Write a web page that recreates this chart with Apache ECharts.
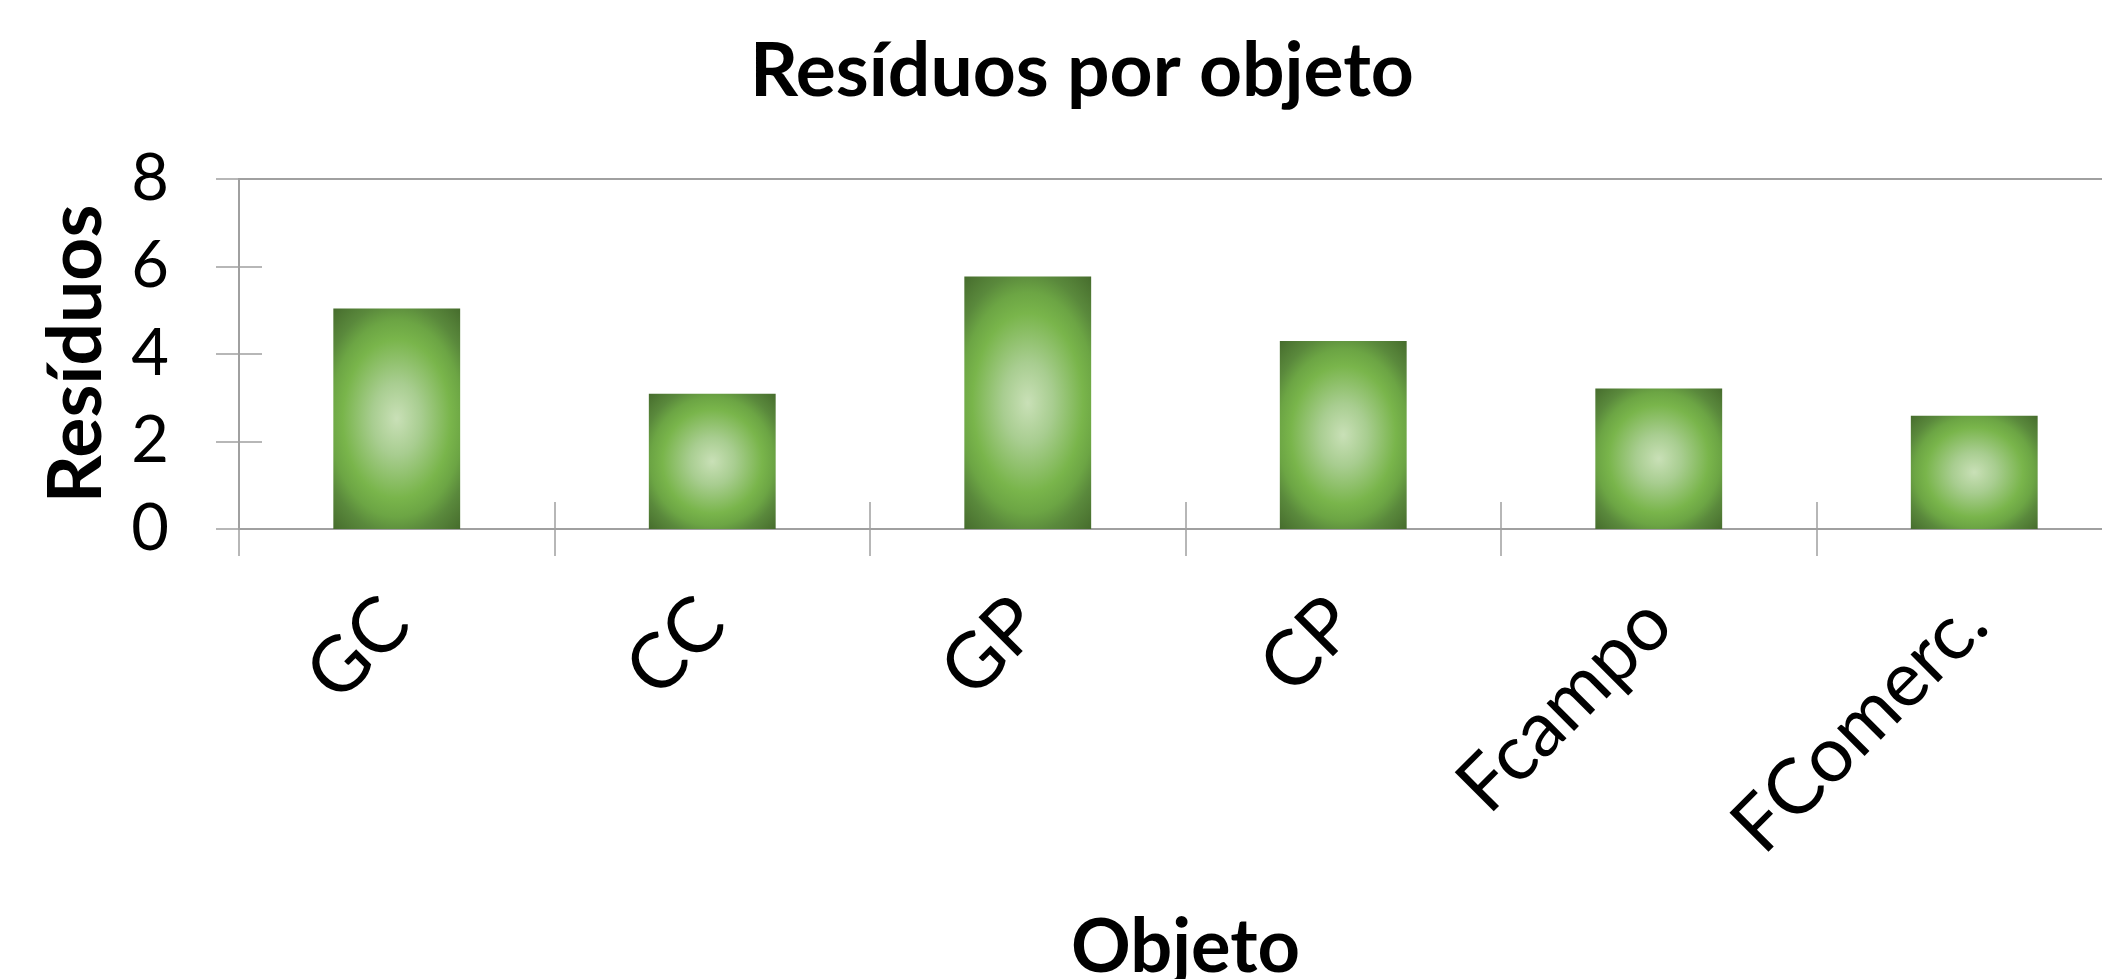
<!DOCTYPE html>
<html>
<head>
<meta charset="utf-8">
<title>Resíduos por objeto</title>
<script src="https://cdn.jsdelivr.net/npm/echarts@6/dist/echarts.min.js"></script>
<style>
  html, body { margin: 0; padding: 0; background: #fff; overflow: hidden; }
  #main { width: 2102px; height: 979px; }
</style>
</head>
<body>
<div id="main"></div>
<script>
  // dados do gráfico
  const categories = ['GC', 'CC', 'GP', 'CP', 'Fcampo', 'FComerc.']
  const residuos = [5.04, 3.09, 5.77, 4.30, 3.21, 2.59]
  const yMin = 0
  const yMax = 8
  const yStep = 2

  const FONT = 'Lato'
  const AXIS_GRAY = '#a0a0a0'

  const GRAD_STOPS = [
    { offset: 0, color: '#c9e0b7' },
    { offset: 0.25, color: '#a8cd90' },
    { offset: 0.55, color: '#79b54b' },
    { offset: 0.68, color: '#6ca544' },
    { offset: 0.8, color: '#5a893c' },
    { offset: 1, color: '#466c2d' }
  ]

  function renderBar (params, api) {
    const base = api.coord([api.value(0), 0])
    const top = api.coord([api.value(0), api.value(1)])
    const band = api.size([1, 0])[0]
    const w = band * 0.402
    const h = base[1] - top[1]
    // elipse do gradiente um pouco menos alongada que a barra
    const s = Math.pow(h / w, 0.7)
    const lh = h / s
    const r = Math.sqrt((w / 2) * (w / 2) + (lh / 2) * (lh / 2))
    return {
      type: 'rect',
      x: base[0],
      y: base[1],
      scaleY: s,
      shape: { x: -w / 2, y: -lh, width: w, height: lh },
      style: {
        fill: {
          type: 'radial',
          x: 0,
          y: -lh / 2,
          r: r,
          global: true,
          colorStops: GRAD_STOPS
        }
      }
    }
  }

  const chart = echarts.init(document.getElementById('main'))
  chart.setOption({
    animation: false,
    backgroundColor: '#fff',
    title: {
      text: 'Resíduos por objeto',
      left: 1077,
      textAlign: 'center',
      top: 29,
      textStyle: { fontFamily: FONT, fontWeight: 'bold', fontSize: 75, color: '#000' }
    },
    // a área do gráfico passa da borda direita, como no original
    grid: { left: 239, top: 179, bottom: 450, right: -30, containLabel: false, outerBoundsMode: 'none' },
    xAxis: [{
      type: 'category',
      data: categories,
      position: 'bottom',
      name: 'Objeto',
      nameLocation: 'middle',
      nameGap: 382,
      nameTextStyle: { fontFamily: FONT, fontWeight: 'bold', fontSize: 74, color: '#000' },
      axisLine: { show: true, lineStyle: { color: AXIS_GRAY, width: 2 } },
      axisTick: { show: true, length: 27, lineStyle: { color: AXIS_GRAY, width: 1.5 } },
      axisLabel: { rotate: 45, margin: 82, fontFamily: FONT, fontSize: 77, color: '#000' },
      splitLine: { show: false }
    }, {
      type: 'category',
      data: categories,
      position: 'bottom',
      axisLine: { show: false },
      axisTick: { show: true, inside: true, length: 27, lineStyle: { color: AXIS_GRAY, width: 1.5 } },
      axisLabel: { show: false },
      splitLine: { show: false }
    }, {
      // linha do topo da área do gráfico
      type: 'category',
      data: categories,
      position: 'top',
      axisLine: { show: true, lineStyle: { color: AXIS_GRAY, width: 2 } },
      axisTick: { show: false },
      axisLabel: { show: false },
      splitLine: { show: false }
    }],
    yAxis: [{
      type: 'value',
      min: yMin,
      max: yMax,
      interval: yStep,
      position: 'left',
      name: 'Resíduos',
      nameLocation: 'middle',
      nameRotate: 90,
      nameGap: 125,
      nameTextStyle: { fontFamily: FONT, fontWeight: 'bold', fontSize: 75, color: '#000' },
      axisLine: { show: true, lineStyle: { color: AXIS_GRAY, width: 2 } },
      axisTick: { show: true, length: 23, lineStyle: { color: AXIS_GRAY, width: 1.5 } },
      axisLabel: { margin: 70, fontFamily: FONT, fontSize: 65, color: '#000' },
      splitLine: { show: false }
    }, {
      type: 'value',
      min: yMin,
      max: yMax,
      interval: yStep,
      position: 'left',
      axisLine: { show: false },
      axisTick: { show: true, inside: true, length: 23, lineStyle: { color: AXIS_GRAY, width: 1.5 } },
      axisLabel: { show: false },
      splitLine: { show: false }
    }],
    series: [{
      name: 'Resíduos',
      type: 'custom',
      xAxisIndex: 0,
      yAxisIndex: 0,
      renderItem: renderBar,
      encode: { x: 0, y: 1 },
      data: categories.map((c, i) => [i, residuos[i]])
    }]
  })
</script>
</body>
</html>
